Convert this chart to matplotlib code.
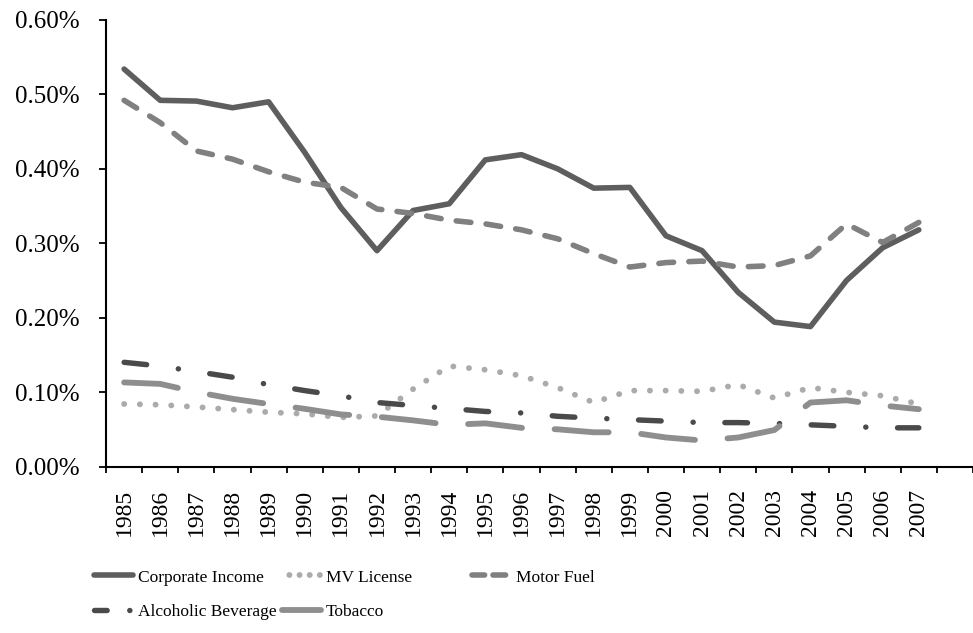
import matplotlib
matplotlib.use('Agg')
import matplotlib.pyplot as plt
from matplotlib.lines import Line2D
from matplotlib.ticker import FuncFormatter, FixedLocator

plt.rcParams['font.family'] = ['Liberation Serif', 'DejaVu Serif']
plt.rcParams['lines.scale_dashes'] = False

years = list(range(1985, 2008))
corporate = [0.534, 0.492, 0.491, 0.482, 0.490, 0.422, 0.348, 0.290, 0.344, 0.353, 0.412, 0.419,
             0.400, 0.374, 0.375, 0.310, 0.290, 0.234, 0.194, 0.188, 0.250, 0.294, 0.318]
mv_license = [0.084, 0.083, 0.080, 0.0765, 0.073, 0.0707, 0.066, 0.068, 0.104, 0.135, 0.130, 0.122,
              0.106, 0.086, 0.102, 0.102, 0.101, 0.110, 0.092, 0.106, 0.0997, 0.095, 0.084]
motor_fuel = [0.492, 0.462, 0.424, 0.413, 0.396, 0.382, 0.375, 0.346, 0.340, 0.331, 0.326, 0.318,
              0.306, 0.286, 0.268, 0.274, 0.276, 0.268, 0.270, 0.283, 0.326, 0.301, 0.328]
alcohol = [0.140, 0.135, 0.1275, 0.120, 0.110, 0.102, 0.095, 0.086, 0.082, 0.078, 0.074, 0.072,
           0.0675, 0.065, 0.063, 0.061, 0.059, 0.059, 0.058, 0.056, 0.054, 0.052, 0.052]
tobacco = [0.113, 0.111, 0.100, 0.091, 0.084, 0.0775, 0.070, 0.067, 0.062, 0.056, 0.058, 0.052,
           0.050, 0.046, 0.046, 0.039, 0.035, 0.039, 0.049, 0.086, 0.089, 0.082, 0.077]

c_corp, c_mv, c_motor, c_alc, c_tob = '#5e5e5e', '#ababab', '#808080', '#4a4a4a', '#8e8e8e'

fig = plt.figure(figsize=(9.73, 6.33), dpi=100)
ax = fig.add_axes([0.109, 0.263, 0.891, 0.7055])

x = list(range(len(years)))
ax.plot(x, corporate, color=c_corp, lw=4, solid_capstyle='round', solid_joinstyle='round')
ax.plot(x, mv_license, color=c_mv, lw=4.2, dash_capstyle='round', linestyle=(0, (0.1, 11.2)))
ax.plot(x, motor_fuel, color=c_motor, lw=4, dash_capstyle='round', linestyle=(0, (10.6, 11)))
ax.plot(x, alcohol, color=c_alc, lw=3.9, dash_capstyle='round',
        linestyle=(0, (16.3, 23, 0.1, 22.8)))
ax.plot(x, tobacco, color=c_tob, lw=4.2, dash_capstyle='round', linestyle=(0, (39, 23.5)))

ax.set_xlim(-0.5, 23.5)
ax.set_ylim(0, 0.6)
ax.set_yticks([0, 0.1, 0.2, 0.3, 0.4, 0.5, 0.6])
ax.yaxis.set_major_formatter(FuncFormatter(lambda v, p: '{:.2f}%'.format(v)))
ax.set_xticks(x)
ax.set_xticklabels([str(y) for y in years], rotation=90)
ax.xaxis.set_minor_locator(FixedLocator([i - 0.5 for i in range(25)]))
ax.tick_params(axis='x', which='major', length=0, pad=16, labelsize=17)
ax.tick_params(axis='x', which='minor', length=4.5, width=1.3, direction='out')
ax.tick_params(axis='y', length=5, width=1.3, direction='out', pad=14, labelsize=18)

for s in ['top', 'right']:
    ax.spines[s].set_visible(False)
for s in ['left', 'bottom']:
    ax.spines[s].set_linewidth(1.5)

# legend proxies, drawn the way the legend shows each pattern
h_corp = Line2D([], [], color=c_corp, lw=4, solid_capstyle='round', label='Corporate Income')
h_mv = Line2D([], [], color=c_mv, lw=4.2, dash_capstyle='round',
              linestyle=(2, (0.1, 7.2)), label='MV License')
h_motor = Line2D([], [], color=c_motor, lw=4, dash_capstyle='round',
                 linestyle=(0, (9.1, 6)), label='Motor Fuel')
h_alc = Line2D([], [], color=c_alc, lw=3.9, dash_capstyle='round',
               linestyle=(0, (9.1, 16.3, 0.1, 30)), label='Alcoholic Beverage')
h_tob = Line2D([], [], color=c_tob, lw=4.2, solid_capstyle='round', label='Tobacco')

common = dict(frameon=False, fontsize=12.5, handlelength=2.2, handletextpad=0.3,
              labelspacing=1.05, borderpad=0, borderaxespad=0, loc='upper left')
fig.legend(handles=[h_corp, h_alc], bbox_to_anchor=(0.0971, 0.1005), **common)
fig.legend(handles=[h_mv, h_tob], bbox_to_anchor=(0.2903, 0.1005), **common)
fig.legend(handles=[h_motor], bbox_to_anchor=(0.4856, 0.1005), **common)

fig.savefig('out.png', dpi=100)
